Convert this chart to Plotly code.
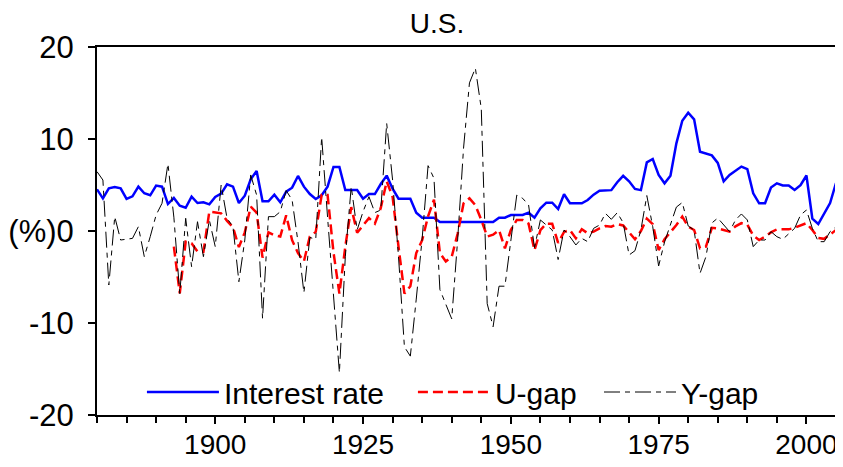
import plotly.graph_objects as go

years = list(range(1880, 2006))

interest_rate = [
    4.53, 3.55, 4.64, 4.78, 4.64, 3.48, 3.77, 4.82, 4.10, 3.88,   # 1880-1889
    4.93, 4.82, 2.93, 3.59, 2.75, 2.53, 3.73, 3.04, 3.12, 2.90,   # 1890-1899
    3.70, 4.06, 5.07, 4.82, 3.04, 3.84, 5.62, 6.52, 3.23, 3.23,   # 1900-1909
    3.95, 3.12, 4.28, 4.71, 5.98, 4.82, 4.02, 3.48, 3.88, 4.82,   # 1910-1919
    6.96, 6.96, 4.46, 4.46, 4.46, 3.51, 4.02, 4.02, 5.11, 6.02,   # 1920-1929
    4.60, 3.51, 3.51, 3.51, 1.99, 1.45, 1.45, 1.45, 0.98, 0.98,   # 1930-1939
    0.98, 0.98, 0.98, 0.98, 0.98, 0.98, 0.98, 0.98, 1.45, 1.45,   # 1940-1949
    1.74, 1.74, 1.74, 1.99, 1.45, 2.46, 3.08, 3.08, 2.39, 3.99,   # 1950-1959
    3.01, 3.01, 3.01, 3.37, 3.95, 4.37, 4.44, 4.44, 5.30, 6.00,   # 1960-1969
    5.40, 4.57, 4.44, 7.46, 7.83, 6.09, 5.18, 6.01, 9.53, 11.99,  # 1970-1979
    12.86, 12.14, 8.62, 8.40, 8.22, 7.40, 5.40, 6.09, 6.54, 7.00, # 1980-1989
    6.72, 4.10, 3.01, 3.01, 4.73, 5.18, 4.95, 4.95, 4.46, 4.98,   # 1990-1999
    6.03, 1.34, 0.76, 1.83, 3.04, 5.22,                           # 2000-2005
]

u_gap = [None] * 13 + [
    -1.69, -6.77, -1.16, -1.34, -2.24, -2.28, 2.10,               # 1893-1899
    2.03, 1.92, 1.10, 0.40, -1.75, -0.15, 2.64, 2.00, -2.90, -0.15,  # 1900-1909
    -0.45, -0.60, 1.70, -1.00, -2.40, -3.30, -0.60, -0.10, 3.90, 3.90,  # 1910-1919
    -2.30, -6.80, -1.70, 2.60, -0.20, 0.65, 1.40, 0.80, 2.50, 5.40,  # 1920-1929
    3.70, -1.70, -6.80, -6.00, -2.40, -1.00, 1.60, 3.40, -2.40, -3.30,  # 1930-1939
    -2.80, -0.30, 3.00, 3.55, 2.80, 1.20, -0.60, -0.40, 0.10, -1.90,  # 1940-1949
    0.10, 1.20, 1.20, 0.80, -2.10, 0.10, 0.80, 0.80, -1.30, -0.10,  # 1950-1959
    0.10, -0.80, 0.20, -0.25, -0.07, 0.29, 0.54, 0.47, 0.76, 0.60,  # 1960-1969
    -0.10, -0.90, 0.00, 1.35, 0.75, -2.07, -0.90, -0.15, 0.65, 1.56,  # 1970-1979
    0.47, 0.11, -1.88, -1.70, 0.35, 0.29, 0.11, -0.07, 0.50, 0.85,  # 1980-1989
    0.70, -0.50, -0.98, -0.62, -0.15, 0.18, 0.18, 0.18, 0.35, 0.60,  # 1990-1999
    0.85, 0.11, -0.75, -0.85, -0.40, 0.10,                         # 2000-2005
]

y_gap = [
    6.45, 5.54, -5.87, 1.56, -0.98, -0.90, -0.80, 0.47, -2.79, -0.62,   # 1880-1889
    1.74, 3.01, 7.30, 1.50, -6.80, 1.38, -3.88, 1.01, -2.79, 1.20,      # 1890-1899
    -1.70, 5.00, 1.38, 0.47, -5.51, -0.98, 6.09, 3.91, -9.49, 1.56,     # 1900-1909
    1.56, 2.10, 4.40, 3.37, -1.20, -6.70, -0.70, -0.90, 10.20, 1.50,    # 1910-1919
    -7.00, -15.40, -2.80, 4.82, 0.11, 2.10, 3.73, 2.00, 2.28, 11.70,    # 1920-1929
    5.54, -2.79, -12.60, -13.60, -7.40, -0.80, 7.10, 5.72, -6.37, -7.95,  # 1930-1939
    -9.55, -0.98, 9.00, 16.10, 17.70, 13.30, -7.90, -10.40, -6.00, -6.00,  # 1940-1949
    -1.00, 3.90, 3.55, 2.83, -1.80, 1.20, 0.65, 0.11, -3.10, 0.11,      # 1950-1959
    -0.62, -1.52, -0.80, -1.16, 0.29, 0.65, 1.92, 1.27, 1.99, 0.90,     # 1960-1969
    -2.61, -2.14, 0.11, 3.85, 0.47, -3.80, -1.20, 0.60, 2.60, 3.10,     # 1970-1979
    0.55, 0.11, -4.60, -2.79, 0.87, 1.41, 0.65, -0.07, 1.20, 1.85,      # 1980-1989
    1.20, -1.70, -0.98, -0.98, -0.07, -0.62, -0.90, -0.25, 0.29, 1.74,  # 1990-1999
    2.28, 0.29, -1.16, -1.16, -0.07, 0.47,                              # 2000-2005
]

y_ticks = [-20, -10, 0, 10, 20]
y_tick_labels = ["-20", "-10", "(%)0", "10", "20"]
x_ticks = [1900, 1925, 1950, 1975, 2000]

FONT = "Liberation Sans, Arial, Helvetica, sans-serif"

# the page body has an 8px margin, so the figure is sized to fit the window
W, H = 835, 459

fig = go.Figure()
fig.add_trace(go.Scatter(
    x=years, y=interest_rate, mode="lines", name="Interest rate",
    line=dict(color="#0000ff", width=2.5), legend="legend",
))
fig.add_trace(go.Scatter(
    x=years, y=u_gap, mode="lines", name="U-gap",
    line=dict(color="#ff0000", width=2.5, dash="10px,5px"), legend="legend2",
))
fig.add_trace(go.Scatter(
    x=years, y=y_gap, mode="lines", name="Y-gap",
    line=dict(color="#000000", width=1, dash="16px,5px,5px,5px"), legend="legend3",
))

def leg(xp):
    return dict(orientation="h", x=xp, y=0.0625, xanchor="left", yanchor="middle",
                bgcolor="rgba(0,0,0,0)", font=dict(family=FONT, size=30, color="black"),
                itemwidth=72)

fig.update_layout(
    width=W, height=H,
    margin=dict(l=89, r=7, t=39, b=52, autoexpand=False),
    paper_bgcolor="white", plot_bgcolor="white",
    font=dict(family=FONT, size=28, color="black"),
    title=dict(text="U.S.", x=(437 - 8) / W, xref="container", xanchor="center",
               y=1 - 15 / H, yref="container", yanchor="middle",
               font=dict(family=FONT, size=28, color="black")),
    showlegend=True,
    legend=leg(0.0608),
    legend2=leg(0.4275),
    legend3=leg(0.6793),
    xaxis=dict(range=[1880, 2005], tickmode="array", tickvals=x_ticks,
               ticks="outside", ticklen=7, tickwidth=1.5, tickcolor="black",
               minor=dict(tickmode="array", tickvals=list(range(1880, 2006, 5)),
                          ticks="outside", ticklen=6, tickwidth=1.5, tickcolor="black"),
               showline=True, linewidth=2, linecolor="black", mirror=True,
               showgrid=False, zeroline=False, automargin=False,
               ticklabelstandoff=-4,
               tickfont=dict(family=FONT, size=28)),
    yaxis=dict(range=[-20, 20], tickmode="array", tickvals=y_ticks, ticktext=y_tick_labels,
               ticks="outside", ticklen=7, tickwidth=1.5, tickcolor="black",
               showline=True, linewidth=2, linecolor="black", mirror=True,
               showgrid=False, zeroline=False, automargin=False,
               ticklabelstandoff=8,
               tickfont=dict(family=FONT, size=31)),
)

fig.write_html("out.html")
